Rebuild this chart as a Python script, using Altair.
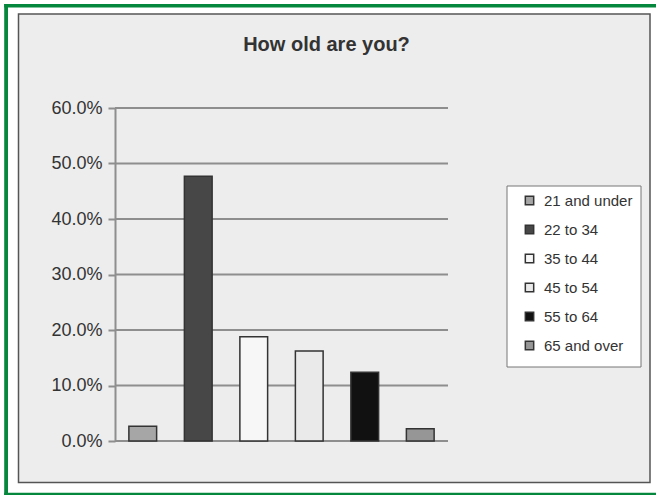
import altair as alt
import pandas as pd

TITLE = "How old are you?"
categories = ["21 and under", "22 to 34", "35 to 44", "45 to 54", "55 to 64", "65 and over"]
values = [0.0265, 0.477, 0.188, 0.162, 0.124, 0.022]
colors = ["#A6A6A6", "#474747", "#F7F7F7", "#EAEAEA", "#111111", "#969696"]
y_ticks = [0.0, 0.1, 0.2, 0.3, 0.4, 0.5, 0.6]

df = pd.DataFrame({"cat": categories, "val": values})
grid_df = pd.DataFrame({"t": y_ticks})
one = pd.DataFrame({"k": [0]})

PL, PT = 115, 108  # plot origin in the canvas
W, H = 333, 333
GREEN = "#05873D"

yscale = alt.Scale(domain=[0, 0.6], nice=False)
yaxis = alt.Axis(values=y_ticks, format=".1%", title=None, grid=False,
                 domainColor="#8E8E8E", domainWidth=2,
                 tickColor="#8E8E8E", tickWidth=2, tickSize=7,
                 labelFont="Liberation Sans", labelFontSize=18,
                 labelColor="#333333", labelPadding=6, zindex=1)

# green frame: top, left and bottom edges only
g_top = alt.Chart(one).mark_rule(color=GREEN, strokeWidth=3.6).encode(
    x=alt.value(4.2 - PL), x2=alt.value(656 - PL), y=alt.value(5.7 - PT))
g_left = alt.Chart(one).mark_rule(color=GREEN, strokeWidth=3.8).encode(
    x=alt.value(6.1 - PL), y=alt.value(4 - PT), y2=alt.value(495 - PT))
g_bottom = alt.Chart(one).mark_rule(color=GREEN, strokeWidth=3.6).encode(
    x=alt.value(4.2 - PL), x2=alt.value(656 - PL), y=alt.value(494.5 - PT))

panel = alt.Chart(one).mark_rect(fill="#EDEDED", stroke="#555555", strokeWidth=1.5).encode(
    x=alt.value(18.5 - PL), x2=alt.value(650 - PL),
    y=alt.value(14 - PT), y2=alt.value(482.5 - PT),
)
legend_box = alt.Chart(one).mark_rect(fill="white", stroke="#777777", strokeWidth=1).encode(
    x=alt.value(507 - PL), x2=alt.value(641 - PL),
    y=alt.value(186 - PT), y2=alt.value(367 - PT),
)
title = alt.Chart(one).mark_text(
    text=TITLE, font="Liberation Sans", fontSize=20, fontWeight="bold",
    color="#333333", align="center", baseline="alphabetic",
).encode(x=alt.value(326.5 - PL), y=alt.value(50.5 - PT))

grid = alt.Chart(grid_df).mark_rule(color="#8E8E8E", strokeWidth=2).encode(
    y=alt.Y("t:Q", scale=yscale, axis=yaxis),
    x=alt.value(0), x2=alt.value(W),
)

bars = alt.Chart(df).mark_bar(stroke="#333333", strokeWidth=1.5).encode(
    x=alt.X("cat:N", sort=categories, axis=None,
            scale=alt.Scale(paddingInner=0.5, paddingOuter=0.25)),
    y=alt.Y("val:Q", scale=yscale, axis=yaxis),
    fill=alt.Fill("cat:N", sort=categories,
                  scale=alt.Scale(domain=categories, range=colors),
                  legend=alt.Legend(title=None, orient="none", legendX=407, legendY=85,
                                    padding=0, rowPadding=13,
                                    symbolType="square", symbolSize=70,
                                    symbolStrokeColor="#333333", symbolStrokeWidth=1.5,
                                    labelFont="Liberation Sans", labelFontSize=15,
                                    labelColor="#333333", labelOffset=7)),
)

chart = alt.layer(g_top, g_left, g_bottom, panel, legend_box, title, grid, bars).properties(
    width=W, height=H,
    autosize=alt.AutoSizeParams(type="none"),
    padding={"left": PL, "top": PT, "right": 656 - PL - W, "bottom": 495 - PT - H},
    background="white",
).configure_view(stroke=None)

chart.save("out.html", embed_options={"renderer": "svg", "actions": False})
